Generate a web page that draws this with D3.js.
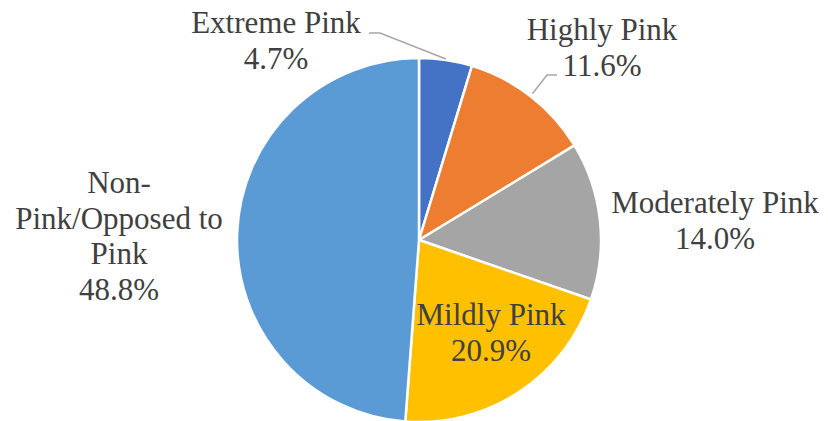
<!DOCTYPE html>
<html>
<head>
<meta charset="utf-8">
<script src="https://cdn.jsdelivr.net/npm/d3@7"></script>
<style>
  html, body { margin: 0; padding: 0; background: #fff; }
  svg { display: block; }
</style>
</head>
<body>
<svg id="s" width="828" height="421" font-family="Tinos, 'Liberation Serif', serif"></svg>
<script>
// Survey shares, clockwise from 12 o'clock
const categories = ["Extreme Pink", "Highly Pink", "Moderately Pink", "Mildly Pink", "Non-Pink/Opposed to Pink"];
const values = [4.7, 11.6, 14.0, 20.9, 48.8];
const labelLines = [
  ["Extreme Pink", "4.7%"],
  ["Highly Pink", "11.6%"],
  ["Moderately Pink", "14.0%"],
  ["Mildly Pink", "20.9%"],
  ["Non-", "Pink/Opposed to", "Pink", "48.8%"]
];
const colors = ["#4472C4", "#ED7D31", "#A5A5A5", "#FFC000", "#5B9BD5"];

const svg = d3.select("#s");
const cx = 419, cy = 240, r = 182;
const fontSize = 31, lineH = 35.5;

const pie = d3.pie().sort(null).value(d => d)(values);
const arc = d3.arc().innerRadius(0).outerRadius(r);

svg.selectAll("path.slice")
  .data(pie)
  .join("path")
  .attr("class", "slice")
  .attr("transform", `translate(${cx},${cy})`)
  .attr("d", arc)
  .attr("fill", (d, i) => colors[i])
  .attr("stroke", "#fff")
  .attr("stroke-width", 2.5)
  .attr("stroke-linejoin", "round");

// Leader lines for the two small slices, ending just outside the slice midpoint
function edgePoint(d, rad) {
  const a = (d.startAngle + d.endAngle) / 2;
  return [cx + rad * Math.sin(a), cy - rad * Math.cos(a)];
}
const leaders = [
  { from: [369, 33], elbow: [380, 33], to: edgePoint(pie[0], r + 1) },
  { from: [557, 75], elbow: [547, 75], to: edgePoint(pie[1], r + 3) }
];
const line = d3.line();
svg.selectAll("path.leader")
  .data(leaders)
  .join("path")
  .attr("class", "leader")
  .attr("d", d => line([d.from, d.elbow, d.to]))
  .attr("fill", "none")
  .attr("stroke", "#A6A6A6")
  .attr("stroke-width", 1.5);

// Label anchors (center x, first baseline y) in page coordinates
const labelPos = [
  [276, 33],
  [602, 40],
  [715, 213],
  [491, 325],
  [119, 193]
];

// One <text> per label line, placed straight on the svg
labelLines.forEach((lines, i) => {
  lines.forEach((ln, j) => {
    svg.append("text")
      .attr("x", labelPos[i][0])
      .attr("y", labelPos[i][1] + j * lineH)
      .attr("text-anchor", "middle")
      .attr("fill", "#404040")
      .style("font-family", '"Liberation Serif"')
      .style("font-size", fontSize + "px")
      .text(ln);
  });
});
</script>
</body>
</html>
